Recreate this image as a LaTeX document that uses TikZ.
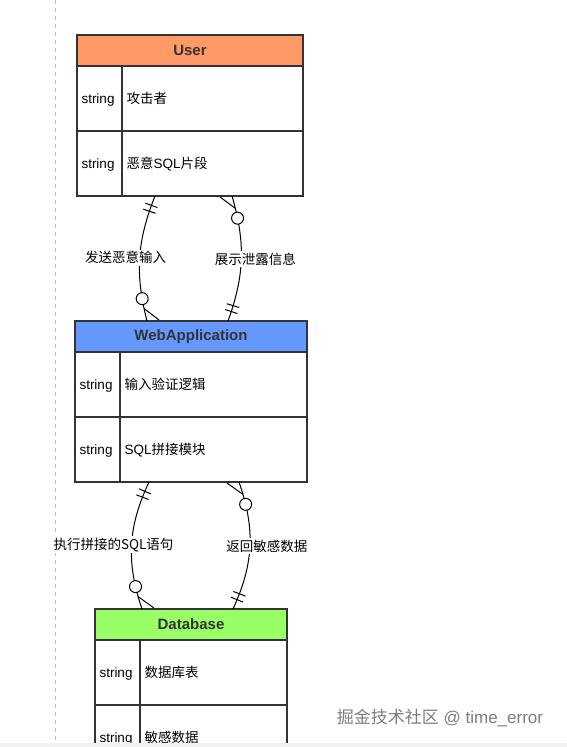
\documentclass[tikz,border=0pt]{standalone}
\usepackage{fontspec}
\setmainfont{Liberation Sans}
\newfontfamily\cjk{Noto Sans CJK SC}
\usetikzlibrary{positioning, calc}
\definecolor{userorange}{RGB}{255, 153, 102}
\definecolor{webblue}{RGB}{102, 153, 255}
\definecolor{dbgreen}{RGB}{153, 255, 102}
\definecolor{boxline}{RGB}{51, 51, 51}
\definecolor{headtext}{RGB}{51, 51, 51}
\definecolor{guidegray}{RGB}{190, 190, 190}
\definecolor{markgray}{RGB}{125, 125, 125}
\newcommand{\cellfont}{\fontsize{13.5}{16}\selectfont}
\tikzset{
  tblhead/.style={
    draw=boxline,
    line width=1.1pt,
    anchor=north west,
    inner sep=0pt,
    outer sep=0pt,
    minimum height=31pt,
    font=\fontsize{15}{17}\selectfont\bfseries,
    text=headtext
  },
  typecell/.style={
    draw=boxline,
    line width=1.1pt,
    fill=white,
    anchor=north west,
    inner xsep=4.5pt,
    inner ysep=0pt,
    outer sep=0pt,
    text width=36pt,
    text height=11pt,
    text depth=1pt,
    align=left,
    minimum height=65pt,
    font=\cellfont
  },
  namecell/.style={
    typecell,
    text width=#1
  },
  rel/.style={
    draw=black,
    line width=1pt
  },
  barmark/.style={
    draw=black,
    line width=1pt,
    rectangle,
    sloped,
    minimum width=0pt,
    minimum height=13pt,
    inner sep=0pt
  },
  zeromark/.style={
    circle,
    draw=black,
    line width=1pt,
    fill=white,
    minimum size=12pt,
    inner sep=0pt
  },
  rellabel/.style={
    fill=white,
    inner sep=1.5pt,
    font=\cjk\cellfont
  }
}

\begin{document}
\begin{tikzpicture}[x=1pt, y=-1pt]
  \path[use as bounding box, clip] (0,0) rectangle (567,747);
  \fill[white] (0,0) rectangle (567,747);
  \draw[guidegray, line width=0.9pt, dash pattern=on 4pt off 4pt] (55,0) -- (55,747);

  % User
  \node[tblhead, fill=userorange, minimum width=226pt] (userhead) at (77,35) {User};
  \node[typecell] (usert1) at (userhead.south west) {string};
  \node[namecell=172pt] (usern1) at (usert1.north east) {\cjk 攻击者};
  \node[typecell] (usert2) at (usert1.south west) {string};
  \node[namecell=172pt] (usern2) at (usert2.north east) {{\cjk 恶意}SQL{\cjk 片段}};

  % WebApplication
  \node[tblhead, fill=webblue, minimum width=232pt] (webhead) at (75,321) {WebApplication};
  \node[typecell] (webt1) at (webhead.south west) {string};
  \node[namecell=178pt] (webn1) at (webt1.north east) {\cjk 输入验证逻辑};
  \node[typecell] (webt2) at (webt1.south west) {string};
  \node[namecell=178pt] (webn2) at (webt2.north east) {SQL{\cjk 拼接模块}};

  % Database
  \node[tblhead, fill=dbgreen, minimum width=192pt] (dbhead) at (95,609) {Database};
  \node[typecell] (dbt1) at (dbhead.south west) {string};
  \node[namecell=138pt] (dbn1) at (dbt1.north east) {\cjk 数据库表};
  \node[typecell] (dbt2) at (dbt1.south west) {string};
  \node[namecell=138pt] (dbn2) at (dbt2.north east) {\cjk 敏感数据};

  % connector ends
  \coordinate (sendA) at (155,196);
  \coordinate (sendB) at (147,321);
  \coordinate (showA) at (232,196);
  \coordinate (showB) at (228,321);
  \coordinate (execA) at (149,482);
  \coordinate (execB) at (142,609);
  \coordinate (backA) at (239,482);
  \coordinate (backB) at (233,609);

  \draw[rel] (sendA) to[bend right=18]
      node[barmark, pos=0.07]{} node[barmark, pos=0.115]{}
      node[rellabel, pos=0.5, xshift=-14pt]{发送恶意输入}
      coordinate[pos=0.91] (sendT)
      node[zeromark, pos=0.835]{} (sendB);
  \draw[rel] (sendT) -- ($(sendB)+(12,-1)$);

  \draw[rel] (showA) to[bend left=18]
      coordinate[pos=0.09] (showT)
      node[zeromark, pos=0.165]{}
      node[rellabel, pos=0.5, xshift=14pt]{展示泄露信息}
      node[barmark, pos=0.885]{} node[barmark, pos=0.93]{} (showB);
  \draw[rel] ($(showA)+(-12,1)$) -- (showT);

  \draw[rel] (execA) to[bend right=22]
      node[barmark, pos=0.07]{} node[barmark, pos=0.115]{}
      node[rellabel, pos=0.5, xshift=-18pt]{执行拼接的SQL语句}
      coordinate[pos=0.91] (execT)
      node[zeromark, pos=0.835]{} (execB);
  \draw[rel] (execT) -- ($(execB)+(12,-1)$);

  \draw[rel] (backA) to[bend left=22]
      coordinate[pos=0.09] (backT)
      node[zeromark, pos=0.165]{}
      node[rellabel, pos=0.5, xshift=17pt]{返回敏感数据}
      node[barmark, pos=0.885]{} node[barmark, pos=0.93]{} (backB);
  \draw[rel] ($(backA)+(-12,1)$) -- (backT);

  \fill[gray!10] (0,743) rectangle (567,747);
  \node[text=markgray, font=\fontsize{17}{19}\selectfont] (mark) at (440,718) {{\cjk 掘金技术社区} @ time\_error};
\end{tikzpicture}
\end{document}
